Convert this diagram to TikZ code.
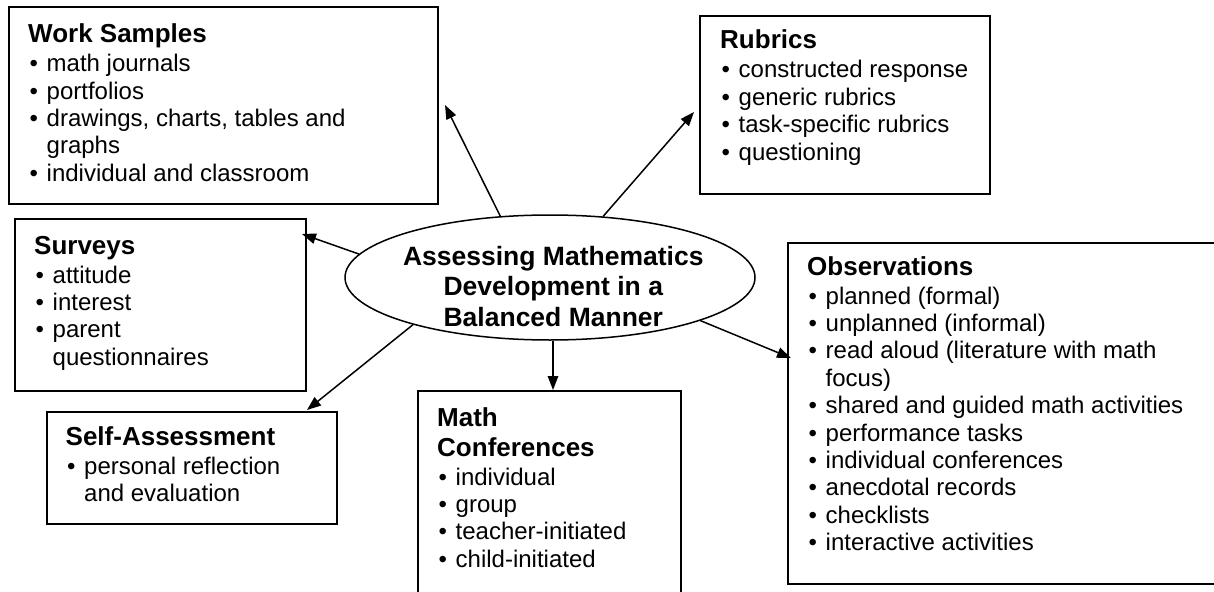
\documentclass[tikz,border=0pt]{standalone}
\usepackage{fontspec}
\setmainfont{Liberation Sans}
\usetikzlibrary{shapes.geometric,arrows.meta}
\newcommand\boxhead[1]{{\fontsize{26}{30}\selectfont\bfseries #1\par}\vspace{1.6pt}}
\newcommand\bitem[1]{\par\hangindent=18.5pt\hangafter=1\noindent\makebox[18.5pt][l]{\hspace{1.5pt}•}#1\par}
\newcommand\boxbody[2]{\parbox[t]{#1}{\raggedright\parskip=0pt\fontsize{24}{27.4}\selectfont #2}}
\tikzset{
  box/.style={draw, line width=2pt, rectangle, inner sep=0pt, anchor=north west},
  txt/.style={inner sep=0pt, anchor=base west},
  arr/.style={-{Triangle[length=14pt,width=10.5pt]}, line width=1.5pt},
}
\begin{document}
\begin{tikzpicture}[x=1pt,y=-1pt]
\clip (0,0) rectangle (1214,591);
\fill[white] (0,0) rectangle (1214,591);

% boxes
\node[box, minimum width=429pt, minimum height=197pt] (ws) at (8,6) {};
\node[box, minimum width=290pt, minimum height=178pt] (rub) at (699,15) {};
\node[box, minimum width=291pt, minimum height=172pt] (sur) at (14,218) {};
\node[box, minimum width=290pt, minimum height=112pt] (self) at (46,411) {};
\node[box, minimum width=263pt, minimum height=240pt] (mc) at (417,390) {};
\node[box, minimum width=450pt, minimum height=341pt] (obs) at (787,242) {};

% texts
\node[txt] (ws-t) at (28,42.7) {\boxbody{400pt}{\boxhead{Work Samples}
\bitem{math journals}
\bitem{portfolios}
\bitem{drawings, charts, tables and\newline graphs}
\bitem{individual and classroom}}};

\node[txt] (rub-t) at (720,49) {\boxbody{260pt}{\boxhead{Rubrics}
\bitem{constructed response}
\bitem{generic rubrics}
\bitem{task-specific rubrics}
\bitem{questioning}}};

\node[txt] (sur-t) at (34,254) {\boxbody{260pt}{\boxhead{Surveys}
\bitem{attitude}
\bitem{interest}
\bitem{parent\newline questionnaires}}};

\node[txt] (self-t) at (65.5,445.5) {\boxbody{260pt}{\boxhead{Self-Assessment}
\bitem{personal reflection\newline and evaluation}}};

\node[txt] (mc-t) at (437,426) {\boxbody{240pt}{\boxhead{Math\newline Conferences}
\bitem{individual}
\bitem{group}
\bitem{teacher-initiated}
\bitem{child-initiated}}};

\node[txt] (obs-t) at (807,275) {\boxbody{400pt}{\boxhead{Observations}
\bitem{planned (formal)}
\bitem{unplanned (informal)}
\bitem{read aloud (literature with math\newline focus)}
\bitem{shared and guided math activities}
\bitem{performance tasks}
\bitem{individual conferences}
\bitem{anecdotal records}
\bitem{checklists}
\bitem{interactive activities}}};

% central ellipse
\node[ellipse, draw, line width=1.5pt, fill=white, minimum width=410pt, minimum height=125pt, inner sep=0pt] (ell) at (550,277.5) {};
\node[inner sep=0pt, anchor=base] (ell-t) at (553.3,265) {\parbox[t]{400pt}{\centering\fontsize{26.5}{30.5}\selectfont\bfseries Assessing Mathematics\\ Development in a\\ Balanced Manner}};

% arrow tips
\coordinate (ws-tip) at (445,105);
\coordinate (rub-tip) at (694,112);
\coordinate (sur-tip) at (302,234);
\coordinate (self-tip) at (307,410);
\coordinate (mc-tip) at (553,390);
\coordinate (obs-tip) at (791,358);

\draw[arr] (ell.129.8) -- (ws-tip);
\draw[arr] (ell.49.7) -- (rub-tip);
\draw[arr] (ell.173.3) -- (sur-tip);
\draw[arr] (ell.199.5) -- (self-tip);
\draw[arr] (ell.south -| mc-tip) -- (mc-tip);
\draw[arr] (ell.-16.9) -- (obs-tip);
\end{tikzpicture}
\end{document}
